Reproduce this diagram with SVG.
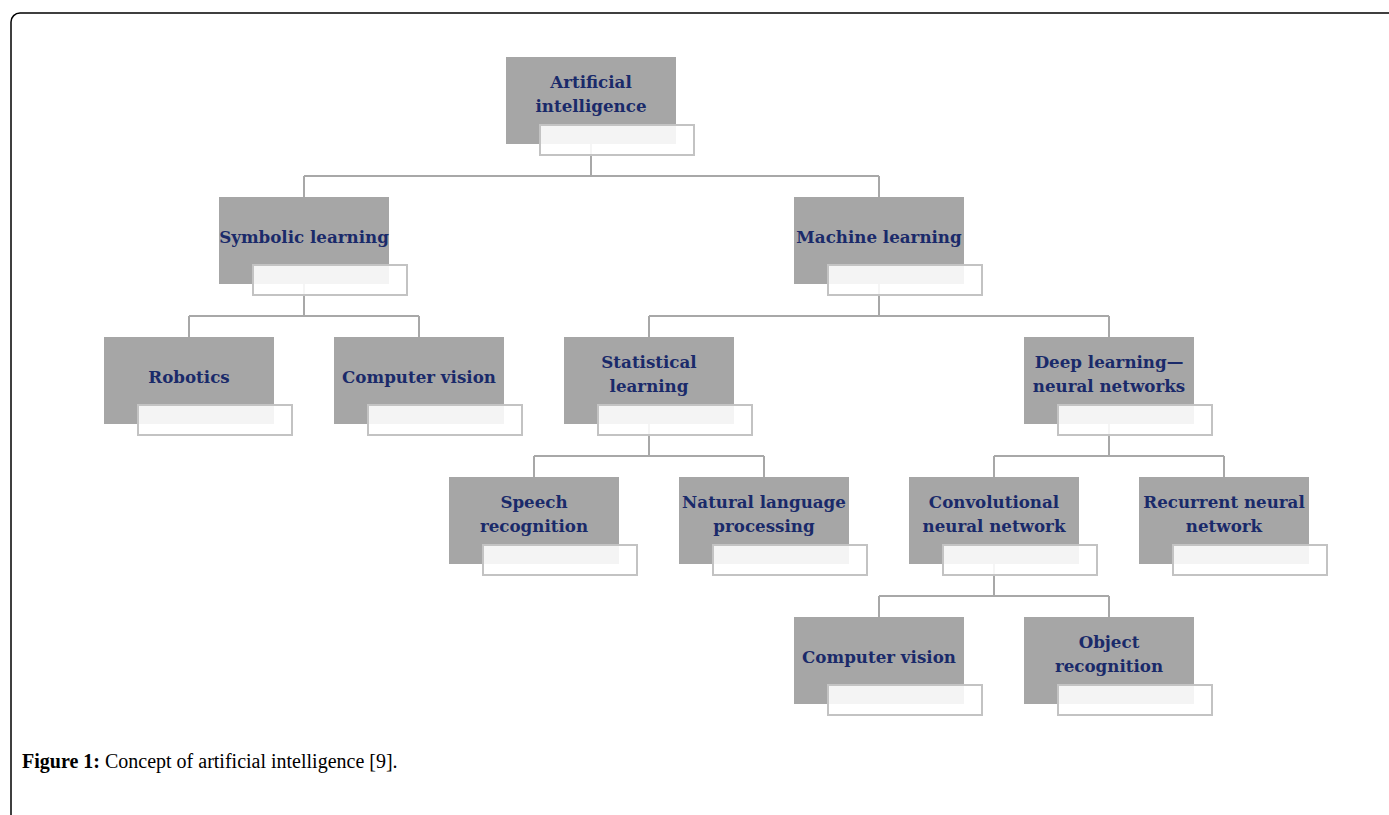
<svg xmlns="http://www.w3.org/2000/svg" width="1389" height="815" viewBox="0 0 1389 815">
<style>
.g{fill:#a6a6a6}
.w{fill:#ffffff;fill-opacity:0.88;stroke:#c3c3c3;stroke-width:2}
.t{font-family:"DejaVu Serif","Liberation Serif",serif;font-weight:bold;font-size:16.7px;fill:#1a2a6a;text-anchor:middle}
.c{fill:none;stroke:#a8a8a8;stroke-width:2}
.cap{font-family:"Liberation Serif",serif;font-size:20px;fill:#000}
</style>
<rect x="0" y="0" width="1389" height="815" fill="#ffffff"/>
<rect x="11" y="13" width="1400" height="830" rx="9" fill="none" stroke="#000" stroke-width="1.5"/>
<g id="connectors">
<path class="c" d="M591 144V176M304 176H879M304 176V197M879 176V197"/>
<path class="c" d="M304 284V316M189 316H419M189 316V337M419 316V337"/>
<path class="c" d="M879 284V316M649 316H1109M649 316V337M1109 316V337"/>
<path class="c" d="M649 424V456M534 456H764M534 456V477M764 456V477"/>
<path class="c" d="M1109 424V456M994 456H1224M994 456V477M1224 456V477"/>
<path class="c" d="M994 564V596M879 596H1109M879 596V617M1109 596V617"/>
</g>
<g id="n-ai"><rect class="g" x="506" y="57" width="170" height="87"/><rect class="w" x="540" y="125" width="154" height="30"/><text class="t" x="591" y="88">Artificial</text><text class="t" x="591" y="112">intelligence</text></g>
<g id="n-symbolic"><rect class="g" x="219" y="197" width="170" height="87"/><rect class="w" x="253" y="265" width="154" height="30"/><text class="t" x="304" y="243">Symbolic learning</text></g>
<g id="n-machine"><rect class="g" x="794" y="197" width="170" height="87"/><rect class="w" x="828" y="265" width="154" height="30"/><text class="t" x="879" y="243">Machine learning</text></g>
<g id="n-robotics"><rect class="g" x="104" y="337" width="170" height="87"/><rect class="w" x="138" y="405" width="154" height="30"/><text class="t" x="189" y="383">Robotics</text></g>
<g id="n-cv1"><rect class="g" x="334" y="337" width="170" height="87"/><rect class="w" x="368" y="405" width="154" height="30"/><text class="t" x="419" y="383">Computer vision</text></g>
<g id="n-stat"><rect class="g" x="564" y="337" width="170" height="87"/><rect class="w" x="598" y="405" width="154" height="30"/><text class="t" x="649" y="368">Statistical</text><text class="t" x="649" y="392">learning</text></g>
<g id="n-deep"><rect class="g" x="1024" y="337" width="170" height="87"/><rect class="w" x="1058" y="405" width="154" height="30"/><text class="t" x="1109" y="368">Deep learning—</text><text class="t" x="1109" y="392">neural networks</text></g>
<g id="n-speech"><rect class="g" x="449" y="477" width="170" height="87"/><rect class="w" x="483" y="545" width="154" height="30"/><text class="t" x="534" y="508">Speech</text><text class="t" x="534" y="532">recognition</text></g>
<g id="n-nlp"><rect class="g" x="679" y="477" width="170" height="87"/><rect class="w" x="713" y="545" width="154" height="30"/><text class="t" x="764" y="508">Natural language</text><text class="t" x="764" y="532">processing</text></g>
<g id="n-cnn"><rect class="g" x="909" y="477" width="170" height="87"/><rect class="w" x="943" y="545" width="154" height="30"/><text class="t" x="994" y="508">Convolutional</text><text class="t" x="994" y="532">neural network</text></g>
<g id="n-rnn"><rect class="g" x="1139" y="477" width="170" height="87"/><rect class="w" x="1173" y="545" width="154" height="30"/><text class="t" x="1224" y="508">Recurrent neural</text><text class="t" x="1224" y="532">network</text></g>
<g id="n-cv2"><rect class="g" x="794" y="617" width="170" height="87"/><rect class="w" x="828" y="685" width="154" height="30"/><text class="t" x="879" y="663">Computer vision</text></g>
<g id="n-obj"><rect class="g" x="1024" y="617" width="170" height="87"/><rect class="w" x="1058" y="685" width="154" height="30"/><text class="t" x="1109" y="648">Object</text><text class="t" x="1109" y="672">recognition</text></g>
<text class="cap" x="22" y="768"><tspan font-weight="bold">Figure 1:</tspan> Concept of artificial intelligence [9].</text>
</svg>
